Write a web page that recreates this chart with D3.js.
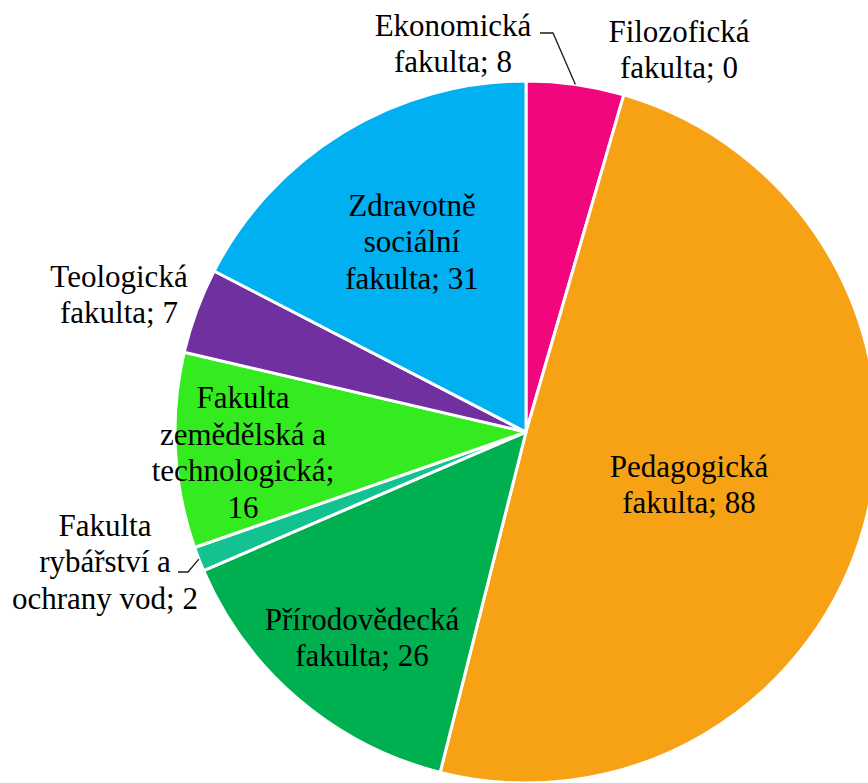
<!DOCTYPE html>
<html>
<head>
<meta charset="utf-8">
<script src="https://cdn.jsdelivr.net/npm/d3@7/dist/d3.min.js"></script>
<style>
  html, body { margin: 0; padding: 0; background: #fff; }
  svg { display: block; }
  .lbl { font-family: "Liberation Serif", Tinos, "Times New Roman", Times, "DejaVu Serif", "Noto Serif", serif; }
</style>
</head>
<body>
<svg id="chart" width="868" height="783"></svg>
<script>
// ---- data ----
const categories = [
  "Ekonomická fakulta",
  "Filozofická fakulta",
  "Pedagogická fakulta",
  "Přírodovědecká fakulta",
  "Fakulta rybářství a ochrany vod",
  "Fakulta zemědělská a technologická",
  "Teologická fakulta",
  "Zdravotně sociální fakulta"
];
const values = [8, 0, 88, 26, 2, 16, 7, 31];
const labelLines = [
  ["Ekonomická", "fakulta; 8"],
  ["Filozofická", "fakulta; 0"],
  ["Pedagogická", "fakulta; 88"],
  ["Přírodovědecká", "fakulta; 26"],
  ["Fakulta", "rybářství a", "ochrany vod; 2"],
  ["Fakulta", "zemědělská a", "technologická;", "16"],
  ["Teologická", "fakulta; 7"],
  ["Zdravotně", "sociální", "fakulta; 31"]
];
const colors = ["#F2067D", "#F7A215", "#F7A215", "#00B050", "#12C391", "#33EB1F", "#7030A0", "#00B0F0"];

// ---- layout (label block centres relative to pie centre; leader elbows) ----
const labelOffsets = [
  [-73, -388], [153, -382], [163, 53], [-164, 206],
  [-421, 130], [-283, 21], [-407, -137], [-114, -190]
];
const leaders = { 0: [[540, 33], [553, 33]], 4: [[178, 572], [188, 572]] };

const W = 868, H = 783;
const cx = 526, cy = 432, R = 351;
const fontSize = 31, lineH = 36.5;

const svg = d3.select("#chart");
const g = svg.append("g").attr("transform", `translate(${cx},${cy})`);

const data = categories.map((c, i) => ({ name: c, value: values[i], i }));
const pie = d3.pie().value(d => d.value).sort(null).startAngle(0).endAngle(2 * Math.PI);
const arcs = pie(data);
const arc = d3.arc().innerRadius(0).outerRadius(R);

g.selectAll("path.slice")
  .data(arcs.filter(a => a.data.value > 0))
  .join("path")
  .attr("class", "slice")
  .attr("d", arc)
  .attr("fill", d => colors[d.data.i])
  .attr("stroke", "#fff")
  .attr("stroke-width", 3)
  .attr("stroke-linejoin", "round");

// leader lines
Object.keys(leaders).forEach(k => {
  const a = arcs[+k];
  const mid = (a.startAngle + a.endAngle) / 2;
  const end = [cx + R * Math.sin(mid), cy - R * Math.cos(mid)];
  const pts = leaders[k].concat([end]);
  svg.append("path")
    .attr("d", d3.line()(pts))
    .attr("fill", "none")
    .attr("stroke", "#1a1a1a")
    .attr("stroke-width", 1.3);
});

// labels
arcs.forEach((a, i) => {
  const lines = labelLines[i];
  const [ox, oy] = labelOffsets[i];
  const n = lines.length;
  const t = g.append("text")
    .attr("class", "lbl")
    .attr("text-anchor", "middle")
    .style("font-size", fontSize + "px")
    .attr("fill", "#000");
  lines.forEach((ln, j) => {
    t.append("tspan")
      .attr("x", ox)
      .attr("y", oy + (j - (n - 1) / 2) * lineH + fontSize * 0.33)
      .text(ln);
  });
});
</script>
</body>
</html>
